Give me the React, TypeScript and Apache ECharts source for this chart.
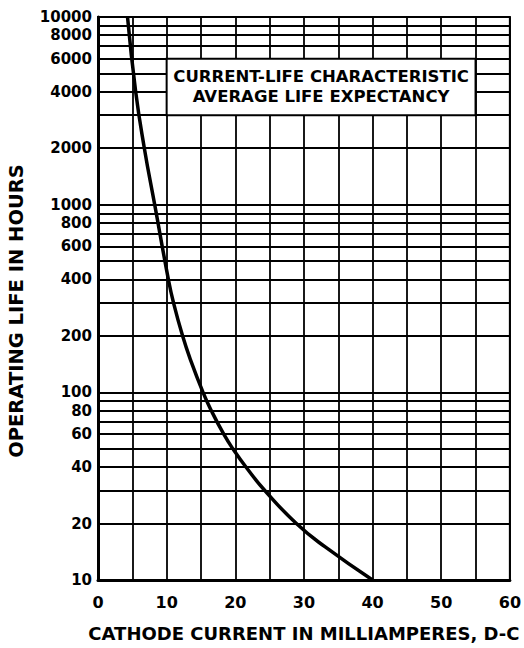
import React, { useEffect, useRef } from "react";
import * as echarts from "echarts";

// Cathode current (mA) vs operating life (hours)
const currentMA = [4.3, 5.49, 6.75, 8.26, 10.25, 11.0, 12.32, 13.45, 15.3, 16.5, 18.3, 19.65, 21.55, 24.3, 28.9, 33.1, 40];
const lifeHours = [10000, 4000, 2000, 1000, 400, 300, 200, 150, 100, 80, 60, 50, 40, 30, 20, 15, 10];

// Horizontal log grid lines and labelled values
const yGridValues = [
  10, 20, 30, 40, 50, 60, 70, 80, 90,
  100, 200, 300, 400, 500, 600, 700, 800, 900,
  1000, 2000, 3000, 4000, 5000, 6000, 7000, 8000, 9000,
  10000,
];
const yTickLabels = [10, 20, 40, 60, 80, 100, 200, 400, 600, 800, 1000, 2000, 4000, 6000, 8000, 10000];
const xTickLabels = [0, 10, 20, 30, 40, 50, 60];

// Title box extent in data units (mA, hours)
const boxCurrent = [10, 55];
const boxLife = [3000, 6000];
const boxLines = ["CURRENT-LIFE CHARACTERISTIC", "AVERAGE LIFE EXPECTANCY"];
const yTitle = "OPERATING LIFE IN HOURS";
const xTitle = "CATHODE CURRENT IN MILLIAMPERES, D-C";

const FONT = "DejaVu Sans";

export default function App() {
  const ref = useRef<HTMLDivElement>(null);
  useEffect(() => {
    document.body.style.margin = "0";
    const chart = echarts.init(ref.current!, null, { renderer: "svg" });
    const option: any = {
      animation: false,
      backgroundColor: "#fff",
      grid: {
        left: 98,
        right: 9,
        top: 17,
        bottom: 68,
        show: true,
        borderColor: "#000",
        borderWidth: 2,
        backgroundColor: "transparent",
      },
      xAxis: {
        type: "value",
        min: 0,
        max: 60,
        interval: 5,
        name: xTitle,
        nameLocation: "middle",
        nameGap: 44,
        nameTextStyle: { fontFamily: FONT, fontWeight: "bold", fontSize: 18, color: "#000" },
        axisLine: { show: true, lineStyle: { color: "#000", width: 3 } },
        axisTick: { show: false },
        axisLabel: {
          interval: 1,
          margin: 14,
          fontFamily: FONT,
          fontWeight: "bold",
          fontSize: 16,
          color: "#000",
          formatter: (v: number) => (xTickLabels.indexOf(v) >= 0 ? String(v) : ""),
        },
        splitLine: { show: true, lineStyle: { color: "#000", width: 1.8 } },
      },
      yAxis: {
        type: "log",
        logBase: 10,
        min: 10,
        max: 10000,
        axisLine: { show: true, lineStyle: { color: "#000", width: 3 } },
        axisTick: { show: false },
        axisLabel: { show: false },
        splitLine: { show: false },
      },
      series: [
        {
          type: "line",
          data: currentMA.map((x, i) => [x, lifeHours[i]]),
          smooth: 0.5,
          symbol: "none",
          lineStyle: { color: "#000", width: 3.5 },
          z: 5,
          markLine: {
            silent: true,
            symbol: "none",
            animation: false,
            lineStyle: { color: "#000", width: 1.8, type: "solid" },
            data: yGridValues.map((v) => ({
              yAxis: v,
              label: {
                show: yTickLabels.indexOf(v) >= 0,
                position: "start",
                distance: 6,
                formatter: String(v),
                fontFamily: FONT,
                fontWeight: "bold",
                fontSize: 15,
                color: "#000",
              },
            })),
          },
        },
      ],
    };
    chart.setOption(option);
    const p1 = chart.convertToPixel({ gridIndex: 0 }, [boxCurrent[0], boxLife[1]]) as number[];
    const p2 = chart.convertToPixel({ gridIndex: 0 }, [boxCurrent[1], boxLife[0]]) as number[];
    chart.setOption({
      graphic: [
        {
          type: "rect",
          z: 100,
          shape: { x: p1[0], y: p1[1], width: p2[0] - p1[0], height: p2[1] - p1[1] },
          style: { fill: "#fff", stroke: "#000", lineWidth: 2 },
        },
        {
          type: "text",
          z: 101,
          x: (p1[0] + p2[0]) / 2,
          y: (p1[1] + p2[1]) / 2,
          style: {
            text: boxLines.join("\n"),
            align: "center",
            verticalAlign: "middle",
            lineHeight: 20,
            fontFamily: FONT,
            fontWeight: "bold",
            fontSize: 16.5,
            fill: "#000",
          },
        },
        {
          type: "text",
          z: 101,
          x: 16,
          y: 311,
          rotation: Math.PI / 2,
          style: {
            text: yTitle,
            align: "center",
            verticalAlign: "middle",
            fontFamily: FONT,
            fontWeight: "bold",
            fontSize: 19.5,
            fill: "#000",
          },
        },
      ],
    });
    return () => chart.dispose();
  }, []);
  return <div ref={ref} style={{ width: 524, height: 648 }} />;
}
